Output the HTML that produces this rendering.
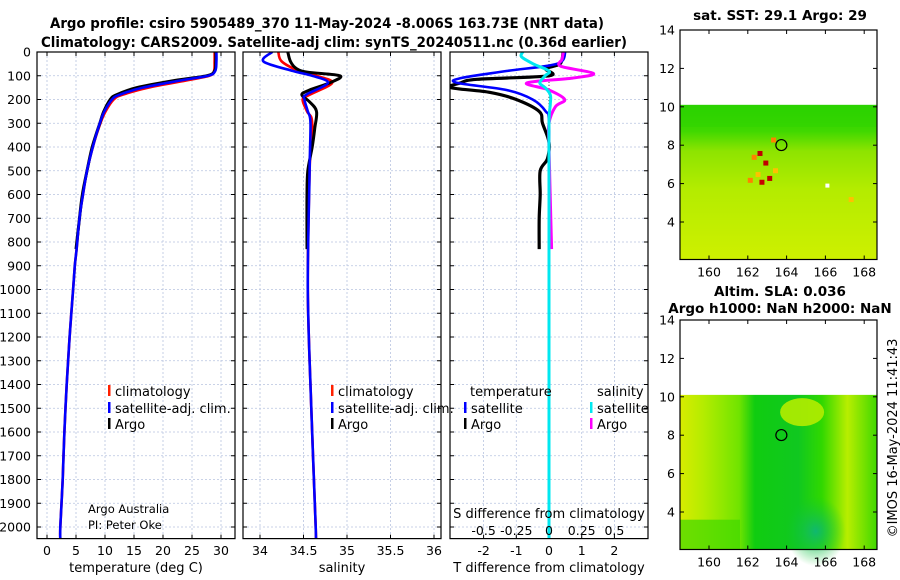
<!DOCTYPE html>
<html><head><meta charset="utf-8"><style>
html,body{margin:0;padding:0;background:#fff;}
svg{display:block;font-family:"DejaVu Sans","Liberation Sans",sans-serif;}
</style></head><body>
<svg id="fig" width="900" height="580" viewBox="0 0 900 580" xmlns="http://www.w3.org/2000/svg">
<defs>
<linearGradient id="sstg" x1="0" y1="0" x2="0" y2="1">
<stop offset="0" stop-color="#22d000"/><stop offset="0.17" stop-color="#40d800"/><stop offset="0.3" stop-color="#8ee400"/><stop offset="0.55" stop-color="#b4ec00"/><stop offset="1" stop-color="#cef000"/>
</linearGradient>
<linearGradient id="slah" x1="0" y1="0" x2="1" y2="0">
<stop offset="0" stop-color="#d8ec00"/><stop offset="0.12" stop-color="#b4ec00"/><stop offset="0.3" stop-color="#70e400"/><stop offset="0.38" stop-color="#10cc10"/><stop offset="0.6" stop-color="#10c820"/><stop offset="0.72" stop-color="#30d800"/><stop offset="0.85" stop-color="#b8ee00"/><stop offset="1" stop-color="#40d800"/>
</linearGradient>
<radialGradient id="teal" cx="0.5" cy="0.5" r="0.5"><stop offset="0" stop-color="#10b870"/><stop offset="1" stop-color="#10c830" stop-opacity="0"/></radialGradient>
</defs>
<g id="root"></g>
</svg>
<script>
// ---------- data ----------
const depthTicks=[0,100,200,300,400,500,600,700,800,900,1000,1100,1200,1300,1400,1500,1600,1700,1800,1900,2000];
const tempTicks=[0,5,10,15,20,25,30];
const salTicks=[34,34.5,35,35.5,36];
const tdiffTicks=[-2,-1,0,1,2];
const sdiffTicks=[-0.5,-0.25,0,0.25,0.5];
const sdiffTickLabels=["-0.5","-0.25","0","0.25","0.5"];
const latTicks=[4,6,8,10,12,14];
const lonTicks=[160,162,164,166,168];

const argoDepth=[0,40,80,100,120,150,180,200,250,300,400,500,600,700,830];
const argoTemp=[29.1,29.1,28.9,27.5,22,15.5,12,10.9,9.8,9.1,7.8,6.9,6.1,5.6,5.0];
const climDepth=[0,40,80,100,120,150,180,200,250,300,400,500,600,700,830,900,1000,1200,1400,1600,1800,2000,2050];
const climTemp=[28.9,28.9,28.8,28.0,24,17.5,13,11.5,10.1,9.2,7.9,6.9,6.2,5.6,5.1,4.8,4.5,3.9,3.4,3.0,2.7,2.3,2.3];
const satTemp=[29.2,29.2,29.0,27.8,23,16.5,12.5,11.2,9.9,9.1,7.9,6.9,6.2,5.6,5.1,4.8,4.5,3.9,3.4,3.0,2.7,2.3,2.3];

const argoSalDepth=[0,40,70,85,100,130,160,180,210,250,320,400,500,600,830];
const argoSal=[34.32,34.35,34.42,34.55,34.92,34.8,34.57,34.48,34.57,34.65,34.63,34.6,34.55,34.54,34.54];
const salDepth=[0,40,80,100,130,180,200,250,300,500,1000,1500,2000,2050];
const climSal=[34.21,34.25,34.45,34.65,34.83,34.57,34.49,34.54,34.6,34.57,34.55,34.59,34.64,34.64];
const satSal=[34.14,34.04,34.38,34.6,34.78,34.53,34.51,34.55,34.58,34.57,34.55,34.59,34.64,34.64];

const dTDepth=[0,50,70,100,115,130,150,170,200,250,300,380,450,500,600,700,830];
const argoDT=[0.43,0.34,-0.1,0,-2.2,-2.7,-3,-1.8,-1,-0.3,-0.2,0,-0.05,-0.27,-0.27,-0.3,-0.3];
const satDTDepth=[0,50,80,110,130,160,200,250,300,600,2050];
const satDT=[0.5,0.24,-1.3,-2.7,-2.8,-1.3,-0.5,-0.1,0,0,0];
const satDSDepth=[0,20,50,80,100,130,150,180,220,300,600,2050];
const satDS=[-0.2,-0.21,-0.12,0,-0.03,-0.07,-0.03,0.01,0.01,0,0,0];
const argoDSDepth=[0,30,60,90,110,130,160,200,230,300,400,830];
const argoDS=[0.11,0.1,0.09,0.34,0.18,-0.17,0,0.12,0.05,0,0,0.02];

// ---------- helpers ----------
const NS="http://www.w3.org/2000/svg";
const root=document.getElementById('root');
function el(tag,attrs,parent){const e=document.createElementNS(NS,tag);for(const k in attrs)e.setAttribute(k,attrs[k]);(parent||root).appendChild(e);return e;}
function txt(s,x,y,size,anchor,parent,weight){const t=el('text',{x:x,y:y,'font-size':size,'text-anchor':anchor||'middle',fill:'#000','font-weight':weight||'normal'},parent);t.textContent=s;return t;}

const PT=52, PB=538.6, PXB=[37,243,450], PW=198;
const yD=d=>PT+d*0.2375;
const xT=v=>47+v*5.8;
const xS=v=>260+(v-34)*87;
const xDT=v=>549+v*32.7;
const xDS=v=>549+v*130.8;

function panelFrame(i,ticksX,fx,name){
  const g=el('g',{});
  
  
  const x0=PXB[i];
  el('clipPath',{id:'clip'+i},g);
  el('rect',{x:x0,y:PT,width:PW,height:PB-PT},document.getElementById('clip'+i));
  depthTicks.forEach(d=>{el('line',{x1:x0,x2:x0+PW,y1:yD(d),y2:yD(d),stroke:'#b8c4e0','stroke-width':0.8,'stroke-dasharray':'2,2'},g);
    el('line',{x1:x0,x2:x0+4,y1:yD(d),y2:yD(d),stroke:'#000'},g);el('line',{x1:x0+PW-4,x2:x0+PW,y1:yD(d),y2:yD(d),stroke:'#000'},g);});
  ticksX.forEach(v=>{const x=fx(v);el('line',{x1:x,x2:x,y1:PT,y2:PB,stroke:'#b8c4e0','stroke-width':0.8,'stroke-dasharray':'2,2'},g);
    el('line',{x1:x,x2:x,y1:PT,y2:PT+4,stroke:'#000'},g);el('line',{x1:x,x2:x,y1:PB-4,y2:PB,stroke:'#000'},g);});
  return g;
}
function frameBorder(i){el('rect',{x:PXB[i],y:PT,width:PW,height:PB-PT,fill:'none',stroke:'#000','stroke-width':1.2});}
function line(depths,vals,fx,color,w,name,i){
  const P=depths.map((d,k)=>[fx(vals[k]),yD(d)]);
  let dstr='M'+P[0][0].toFixed(1)+','+P[0][1].toFixed(1);
  for(let k=0;k<P.length-1;k++){
    const p0=P[Math.max(0,k-1)],p1=P[k],p2=P[k+1],p3=P[Math.min(P.length-1,k+2)];
    const c1=[p1[0]+(p2[0]-p0[0])/6,p1[1]+(p2[1]-p0[1])/6];
    const c2=[p2[0]-(p3[0]-p1[0])/6,p2[1]-(p3[1]-p1[1])/6];
    dstr+=' C'+c1[0].toFixed(1)+','+c1[1].toFixed(1)+' '+c2[0].toFixed(1)+','+c2[1].toFixed(1)+' '+p2[0].toFixed(1)+','+p2[1].toFixed(1);
  }
  const p=el('path',{d:dstr,fill:'none',stroke:color,'stroke-width':w,'stroke-linejoin':'round','clip-path':'url(#clip'+i+')'});
  
  
}
function legendEntry(x,y,color,label,name){
  const g=el('g',{});
  
  
  el('rect',{x:x,y:y-7,width:2.5,height:11,fill:color},g);
  txt(label,x+7,y+4,13,'start',g);
}

let t1=txt('Argo profile: csiro 5905489_370 11-May-2024 -8.006S 163.73E (NRT data)',327,28,14,'middle',root,'bold');
t1.setAttribute('textLength','554');t1.setAttribute('lengthAdjust','spacingAndGlyphs');


let t2=txt('Climatology: CARS2009. Satellite-adj clim: synTS_20240511.nc (0.36d earlier)',334,47,14,'middle',root,'bold');
t2.setAttribute('textLength','586');t2.setAttribute('lengthAdjust','spacingAndGlyphs');



const yl=el('g',{});


depthTicks.forEach(d=>txt(String(d),31,yD(d)+4.5,12.5,'end',yl));

// Panel 1 temperature
panelFrame(0,tempTicks,xT,'temperature-panel');
line(climDepth,climTemp,xT,'#ff0000',2.6,'temp-climatology-line',0);
line(argoDepth,argoTemp,xT,'#000',3,'temp-argo-line',0);
line(climDepth,satTemp,xT,'#0000ff',2.6,'temp-satellite-line',0);
frameBorder(0);
tempTicks.forEach(v=>txt(String(v),xT(v),555,12.5,'middle'));
txt('temperature (deg C)',136,572,13,'middle');
legendEntry(108,392,'#ff2000','climatology','legend-climatology');
legendEntry(108,409,'#0000ff','satellite-adj. clim.','legend-satellite');
legendEntry(108,425,'#000','Argo','legend-argo');
txt('Argo Australia',88,513,11.5,'start');
txt('PI: Peter Oke',88,529,11.5,'start');

// Panel 2 salinity
panelFrame(1,salTicks,xS,'salinity-panel');
line(salDepth,climSal,xS,'#ff0000',2.6,'sal-climatology-line',1);
line(argoSalDepth,argoSal,xS,'#000',3,'sal-argo-line',1);
line(salDepth,satSal,xS,'#0000ff',2.6,'sal-satellite-line',1);
frameBorder(1);
salTicks.forEach(v=>txt(String(v),xS(v),555,12.5,'middle'));
txt('salinity',342,572,13,'middle');
legendEntry(331,392,'#ff2000','climatology','legend-sal-climatology');
legendEntry(331,409,'#0000ff','satellite-adj. clim.','legend-sal-satellite');
legendEntry(331,425,'#000','Argo','legend-sal-argo');

// Panel 3 differences
panelFrame(2,tdiffTicks,xDT,'difference-panel');
el('line',{x1:549,x2:549,y1:PT,y2:PB,stroke:'#444','stroke-dasharray':'1,2'});
line(dTDepth,argoDT,xDT,'#000',3.2,'temp-diff-argo-line',2);
line(satDTDepth,satDT,xDT,'#0000ff',2.6,'temp-diff-satellite-line',2);
line(argoDSDepth,argoDS,xDS,'#ff00ff',3,'sal-diff-argo-line',2);
line(satDSDepth,satDS,xDS,'#00e8f0',3,'sal-diff-satellite-line',2);
frameBorder(2);
tdiffTicks.forEach(v=>txt(String(v),xDT(v),555,12.5,'middle'));
sdiffTicks.forEach((v,k)=>txt(sdiffTickLabels[k],xDS(v),535,12.5,'middle'));
txt('S difference from climatology',549,518,13,'middle');
txt('T difference from climatology',549,572,13,'middle');
txt('temperature',470,396,13,'start');
txt('salinity',597,396,13,'start');
legendEntry(464,409,'#0000ff','satellite','legend-t-satellite');
legendEntry(464,425,'#000','Argo','legend-t-argo');
legendEntry(590,409,'#00e8f0','satellite','legend-s-satellite');
legendEntry(590,425,'#ff00ff','Argo','legend-s-argo');

// ---------- maps ----------
function mapPanel(top,name,fillFn){
  const L=680,R=877,B=top+229.5;
  const lx=v=>709+(v-160)*19.4;
  const ly=v=>top+(14-v)*19.2;
  const g=el('g',{});
  
  
  fillFn(g,L,R,ly(10.1),B,lx,ly);
  el('circle',{cx:lx(163.73),cy:ly(8.006),r:5.5,fill:'none',stroke:'#000','stroke-width':1.2},g);
  el('rect',{x:L,y:top,width:R-L,height:B-top,fill:'none',stroke:'#000','stroke-width':1.2},g);
  latTicks.forEach(v=>{el('line',{x1:L,x2:L+4,y1:ly(v),y2:ly(v),stroke:'#000'},g);el('line',{x1:R-4,x2:R,y1:ly(v),y2:ly(v),stroke:'#000'},g);txt(String(v),675,ly(v)+4.5,12.5,'end',g);});
  lonTicks.forEach(v=>{el('line',{x1:lx(v),x2:lx(v),y1:B-4,y2:B,stroke:'#000'},g);el('line',{x1:lx(v),x2:lx(v),y1:top,y2:top+4,stroke:'#000'},g);txt(String(v),lx(v),B+17,12.5,'middle',g);});
}
mapPanel(30,'sst-map',(g,L,R,T,B,lx,ly)=>{
  el('rect',{x:L,y:T,width:R-L,height:B-T,fill:'url(#sstg)'},g);
  el('rect',{x:L,y:T,width:R-L,height:22,fill:'#30d400',opacity:0.6},g);
  const hot=[[162.5,7.7,'#c00000'],[162.8,7.2,'#c00000'],[163,6.4,'#c00000'],[162.6,6.2,'#c80000'],[162.2,7.5,'#ff8000'],[163.2,8.4,'#ff8000'],[162.4,6.6,'#ffc000'],[163.3,6.8,'#ffc000'],[162,6.3,'#ff8000'],[167.2,5.3,'#ffc000']];
  hot.forEach(h=>el('rect',{x:lx(h[0]),y:ly(h[1]),width:5,height:5,fill:h[2]},g));
  el('rect',{x:lx(166),y:ly(6),width:4,height:4,fill:'#fff'},g);
});
mapPanel(320,'sla-map',(g,L,R,T,B,lx,ly)=>{
  el('rect',{x:L,y:T,width:R-L,height:B-T,fill:'url(#slah)'},g);
  el('ellipse',{cx:lx(165.5),cy:ly(3),rx:30,ry:35,fill:'url(#teal)'},g);
  el('ellipse',{cx:lx(164.8),cy:ly(9.2),rx:22,ry:14,fill:'#b4ec00',opacity:0.9},g);
  el('rect',{x:L,y:ly(3.6),width:60,height:B-ly(3.6),fill:'#40d800',opacity:0.7},g);
});
txt('sat. SST: 29.1 Argo: 29',780,20,13.5,'middle',root,'bold');
txt('Altim. SLA: 0.036',780,296,13.5,'middle',root,'bold');
txt('Argo h1000: NaN h2000: NaN',780,313,13.5,'middle',root,'bold');
const stamp=txt('©IMOS 16-May-2024 11:41:43',0,0,13,'middle');
stamp.setAttribute('transform','translate(897,438) rotate(-90)');


</script>
</body></html>
